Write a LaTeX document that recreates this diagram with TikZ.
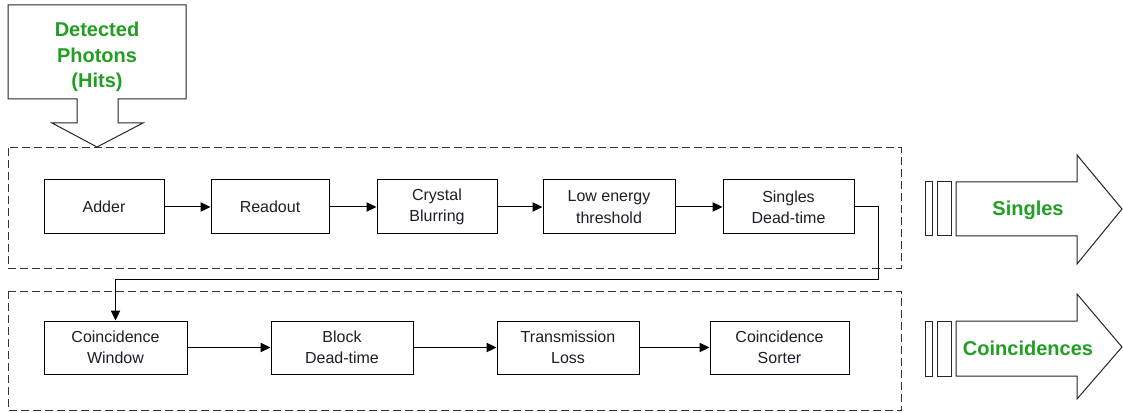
\documentclass[tikz,border=0pt]{standalone}
\usepackage{fontspec}
\setmainfont{Liberation Sans}
\usetikzlibrary{arrows.meta}
\definecolor{tgreen}{RGB}{34,158,34}
\definecolor{tdark}{RGB}{30,30,40}
\tikzset{
  stage/.style={draw=black, line width=0.75pt, fill=white, inner sep=0pt,
    minimum height=40.5pt, align=center, text=tdark,
    font=\fontsize{12}{16}\selectfont},
  flow/.style={line width=0.75pt, -{Triangle[length=7.5pt,width=7pt]}},
  group/.style={draw=black!80, line width=0.75pt, dash pattern=on 6pt off 3pt},
  bigarrow/.style={draw=black!85, line width=0.75pt, fill=white, line join=miter},
  title/.style={text=tgreen, font=\fontsize{15}{19}\selectfont\bfseries, align=center}
}
\begin{document}
\begin{tikzpicture}[x=0.75pt, y=-0.75pt]
\useasboundingbox (0,0) rectangle (1123,413);

% dashed groups
\draw[group] (8,148) rectangle (901,268);
\draw[group] (8,291) rectangle (901,410);

% Detected photons arrow
\draw[bigarrow] (8,5) -- (186,5) -- (186,99) -- (118,99) -- (118,123) -- (143,123)
  -- (97,147) -- (52,123) -- (77,123) -- (77,99) -- (8,99) -- cycle;
\node[title] (hits) at (97,57) {Detected\\Photons\\(Hits)};

% Singles arrow
\draw[bigarrow] (925,182) rectangle (932,236);
\draw[bigarrow] (937,182) rectangle (951,236);
\draw[bigarrow] (956,182) -- (1077,182) -- (1077,155) -- (1122,209) -- (1077,264)
  -- (1077,236) -- (956,236) -- cycle;
\node[title] (singles) at (1028,210) {Singles};

% Coincidences arrow
\draw[bigarrow] (925,321) rectangle (932,376);
\draw[bigarrow] (937,321) rectangle (951,376);
\draw[bigarrow] (956,321) -- (1077,321) -- (1077,294) -- (1122,347) -- (1077,399)
  -- (1077,376) -- (956,376) -- cycle;
\node[title] (coinc) at (1028,348) {Coincidences};

% Row 1
\node[stage, minimum width=90pt] (adder) at (104,207) {Adder};
\node[stage, minimum width=88.5pt] (readout) at (270,207) {Readout};
\node[stage, minimum width=90pt] (blur) at (437,207) {Crystal\\Blurring};
\node[stage, minimum width=99pt] (thr) at (609,207) {Low energy\\threshold};
\node[stage, minimum width=98.25pt] (sdt) at (788.5,207) {Singles\\Dead-time};

% Row 2
\node[stage, minimum width=107.25pt, minimum height=39.75pt] (cw) at (115.5,347.5) {Coincidence\\Window};
\node[stage, minimum width=106.5pt, minimum height=39.75pt] (bdt) at (342,347.5) {Block\\Dead-time};
\node[stage, minimum width=106.5pt, minimum height=39.75pt] (tl) at (568,347.5) {Transmission\\Loss};
\node[stage, minimum width=104.25pt, minimum height=39.75pt] (cs) at (779.5,347.5) {Coincidence\\Sorter};

% connectors
\draw[flow] (adder) -- (readout);
\draw[flow] (readout) -- (blur);
\draw[flow] (blur) -- (thr);
\draw[flow] (thr) -- (sdt);
\coordinate (turnA) at (878,207);
\coordinate (turnB) at (878,279);
\draw[flow] (sdt.east) -- (turnA) -- (turnB) -- (cw.north |- turnB) -- (cw.north);
\draw[flow] (cw) -- (bdt);
\draw[flow] (bdt) -- (tl);
\draw[flow] (tl) -- (cs);
\end{tikzpicture}
\end{document}
